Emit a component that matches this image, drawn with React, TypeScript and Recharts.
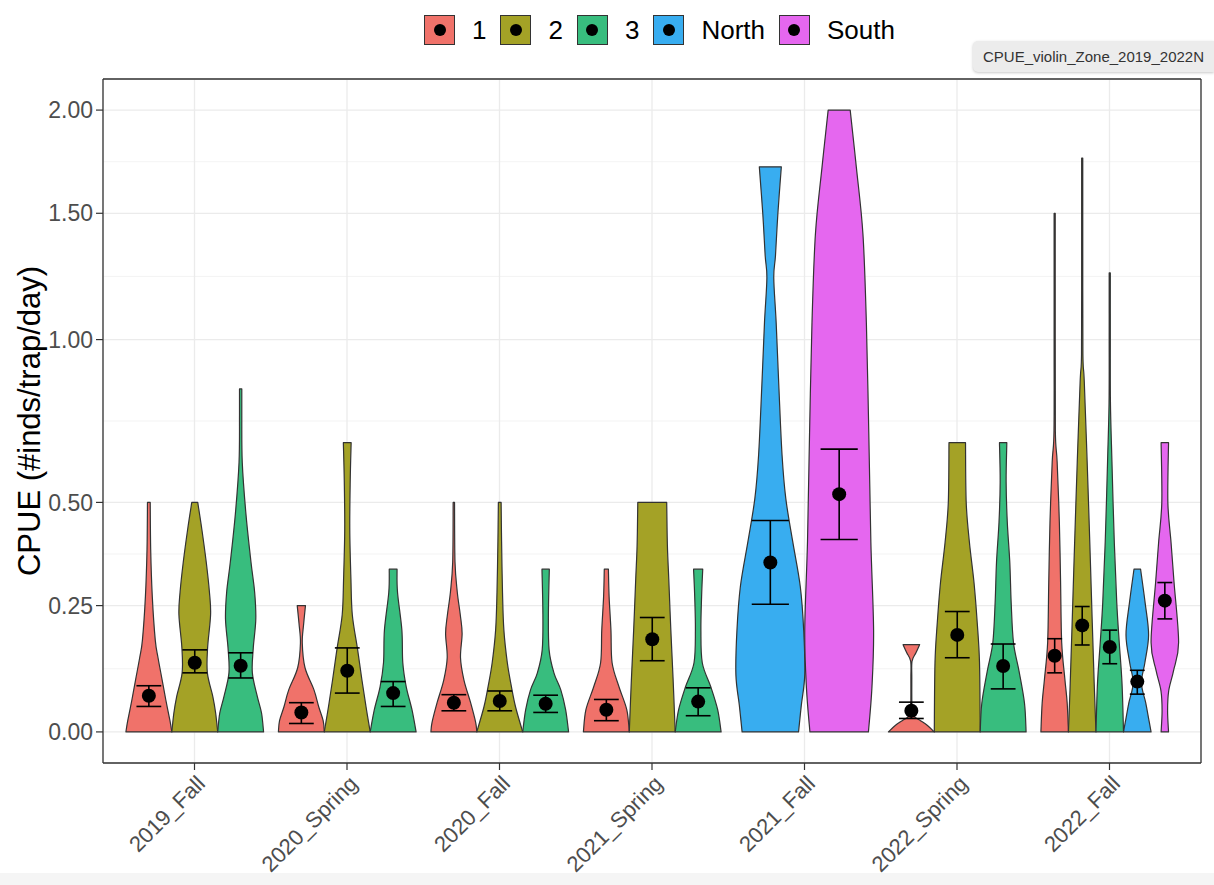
import React from 'react';
import { ComposedChart, Bar, XAxis, YAxis, CartesianGrid } from 'recharts';

// ---- data ---------------------------------------------------------------
const seasons = ['2019_Fall', '2020_Spring', '2020_Fall', '2021_Spring', '2021_Fall', '2022_Spring', '2022_Fall'];
const zones = ['1', '2', '3', 'North', 'South'];
const zoneColors = ['#F0726A', '#A4A226', '#38BD7E', '#38ADF0', '#E567EF'];
const yBreaks = [0, 0.25, 0.5, 1, 1.5, 2];

// one entry per violin (season index, zone)
const violinSeason = [0, 0, 0, 1, 1, 1, 2, 2, 2, 3, 3, 3, 4, 4, 5, 5, 5, 6, 6, 6, 6, 6];
const violinZone = ['1', '2', '3', '1', '2', '3', '1', '2', '3', '1', '2', '3', 'North', 'South', '1', '2', '3', '1', '2', '3', 'North', 'South'];

// mean CPUE and the lower / upper ends of its error bar
const meanCpue = [0.066, 0.13, 0.124, 0.035, 0.114, 0.071, 0.053, 0.056, 0.051, 0.04, 0.178, 0.055, 0.349, 0.522, 0.038, 0.187, 0.1235, 0.144, 0.207, 0.162, 0.093, 0.261];
const seLower = [0.046, 0.11, 0.1, 0.015, 0.071, 0.046, 0.038, 0.038, 0.035, 0.02, 0.134, 0.029, 0.253, 0.405, 0.024, 0.14, 0.079, 0.11, 0.166, 0.128, 0.069, 0.221];
const seUpper = [0.085, 0.156, 0.15, 0.053, 0.16, 0.093, 0.068, 0.075, 0.067, 0.059, 0.224, 0.081, 0.453, 0.648, 0.054, 0.237, 0.168, 0.179, 0.248, 0.197, 0.115, 0.302];

// violin outlines: [CPUE, relative half-width], from the minimum up to the maximum
const densityProfiles: number[][][] = [
  [[0, 1], [0.02, 0.92], [0.058, 0.74], [0.096, 0.58], [0.14, 0.4], [0.176, 0.28], [0.27, 0.15], [0.38, 0.08], [0.5, 0.06]],
  [[0, 1], [0.034, 0.91], [0.064, 0.79], [0.11, 0.55], [0.16, 0.56], [0.23, 0.69], [0.28, 0.64], [0.35, 0.5], [0.43, 0.31], [0.5, 0.13]],
  [[0, 1], [0.034, 0.91], [0.064, 0.73], [0.11, 0.51], [0.16, 0.55], [0.22, 0.66], [0.28, 0.61], [0.35, 0.45], [0.47, 0.23], [0.61, 0.07], [0.75, 0.05], [0.833, 0.05]],
  [[0, 1], [0.02, 0.95], [0.045, 0.76], [0.077, 0.55], [0.12, 0.16], [0.17, 0.04], [0.21, 0.1], [0.25, 0.18]],
  [[0, 1], [0.045, 0.82], [0.096, 0.64], [0.16, 0.44], [0.23, 0.22], [0.31, 0.16], [0.43, 0.11], [0.56, 0.13], [0.667, 0.17]],
  [[0, 1], [0.04, 0.82], [0.083, 0.57], [0.13, 0.42], [0.197, 0.38], [0.28, 0.19], [0.333, 0.17]],
  [[0, 1], [0.017, 0.95], [0.053, 0.73], [0.096, 0.44], [0.14, 0.29], [0.19, 0.36], [0.23, 0.28], [0.28, 0.15], [0.35, 0.05], [0.5, 0.03]],
  [[0, 1], [0.045, 0.69], [0.083, 0.51], [0.13, 0.33], [0.197, 0.18], [0.28, 0.12], [0.4, 0.08], [0.5, 0.06]],
  [[0, 1], [0.04, 0.87], [0.077, 0.66], [0.11, 0.36], [0.156, 0.15], [0.23, 0.12], [0.333, 0.16]],
  [[0, 1], [0.04, 0.89], [0.083, 0.55], [0.13, 0.25], [0.197, 0.2], [0.27, 0.12], [0.333, 0.09]],
  [[0, 1], [0.096, 0.91], [0.197, 0.81], [0.31, 0.72], [0.39, 0.66], [0.5, 0.63]],
  [[0, 1], [0.04, 0.85], [0.083, 0.55], [0.13, 0.18], [0.197, 0.12], [0.27, 0.15], [0.333, 0.2]],
  [[0, 0.82], [0.048, 0.9], [0.106, 1], [0.196, 0.97], [0.293, 0.87], [0.4, 0.65], [0.51, 0.45], [0.632, 0.34], [0.835, 0.25], [1.06, 0.17], [1.23, 0.1], [1.32, 0.15], [1.5, 0.22], [1.714, 0.32]],
  [[0, 0.85], [0.08, 0.95], [0.196, 1], [0.4, 0.92], [0.697, 0.86], [1.06, 0.79], [1.41, 0.69], [1.71, 0.5], [2.0, 0.32]],
  [[0, 1], [0.0117, 0.69], [0.02, 0.4], [0.028, 0.12], [0.04, 0.03], [0.1, 0.02], [0.133, 0.03], [0.15, 0.2], [0.1667, 0.36]],
  [[0, 1], [0.13, 0.97], [0.213, 0.87], [0.302, 0.73], [0.398, 0.53], [0.5, 0.39], [0.667, 0.36]],
  [[0, 1], [0.052, 0.93], [0.114, 0.69], [0.171, 0.45], [0.256, 0.35], [0.349, 0.29], [0.449, 0.18], [0.555, 0.13], [0.667, 0.16]],
  [[0, 1], [0.052, 0.91], [0.098, 0.74], [0.171, 0.51], [0.302, 0.43], [0.449, 0.34], [0.611, 0.18], [0.7, 0.05], [1.0, 0.04], [1.5, 0.04]],
  [[0, 1], [0.09, 0.87], [0.213, 0.73], [0.398, 0.55], [0.611, 0.36], [0.857, 0.15], [0.95, 0.05], [1.3, 0.04], [1.756, 0.04]],
  [[0, 1], [0.09, 0.89], [0.171, 0.69], [0.256, 0.51], [0.398, 0.33], [0.611, 0.16], [0.79, 0.05], [1.0, 0.04], [1.25, 0.04]],
  [[0, 1], [0.023, 0.83], [0.053, 0.61], [0.09, 0.3], [0.13, 0.55], [0.187, 0.82], [0.256, 0.57], [0.333, 0.24]],
  [[0, 0.27], [0.038, 0.2], [0.075, 0.28], [0.114, 0.63], [0.171, 1], [0.302, 0.67], [0.398, 0.45], [0.5, 0.22], [0.667, 0.27]],
];

// ---- scale transform (log1p) -------------------------------------------
const toAxis = (v: number) => Math.log1p(v);
const fromAxis = (t: number) => Math.expm1(t);

type Violin = { zone: string; color: string; mean: number; lo: number; hi: number; profile: number[][] };

const rows = seasons.map((season, si) => {
  const violins: Violin[] = [];
  violinSeason.forEach((s, i) => {
    if (s !== si) return;
    violins.push({
      zone: violinZone[i],
      color: zoneColors[zones.indexOf(violinZone[i])],
      mean: meanCpue[i],
      lo: seLower[i],
      hi: seUpper[i],
      profile: densityProfiles[i],
    });
  });
  const top = Math.max(...violins.map((v) => v.profile[v.profile.length - 1][0]));
  return { season, top: toAxis(top), violins };
});

const tMax = Math.max(...rows.map((r) => r.top));
const yDomain = [-0.05 * tMax, 1.05 * tMax];
const majorTicks = yBreaks.map(toAxis);
const minorTicks = majorTicks.slice(1).map((t, i) => (t + majorTicks[i]) / 2);

const FONT = '"Liberation Sans", Arial, Helvetica, sans-serif';
const INK = '#333333';

// Catmull-Rom through points (w, y), clamped so the outline stays monotone in y
function smoothSide(pts: number[][], cx: number, sign: number) {
  let d = '';
  const clamp = (v: number, a: number, b: number) => Math.min(Math.max(v, Math.min(a, b)), Math.max(a, b));
  for (let i = 0; i < pts.length - 1; i++) {
    const p0 = pts[Math.max(i - 1, 0)];
    const p1 = pts[i];
    const p2 = pts[i + 1];
    const p3 = pts[Math.min(i + 2, pts.length - 1)];
    const c1w = Math.max(0, p1[0] + (p2[0] - p0[0]) / 6);
    const c1y = clamp(p1[1] + (p2[1] - p0[1]) / 6, p1[1], p2[1]);
    const c2w = Math.max(0, p2[0] - (p3[0] - p1[0]) / 6);
    const c2y = clamp(p2[1] - (p3[1] - p1[1]) / 6, p1[1], p2[1]);
    d += ` C ${cx + sign * c1w} ${c1y} ${cx + sign * c2w} ${c2y} ${cx + sign * p2[0]} ${p2[1]}`;
  }
  return d;
}

const ViolinGroup = (props: any) => {
  const { x, y, width, height, payload } = props;
  if (!payload || !payload.violins) return null;
  const base = y + height;
  const py = (v: number) => base - (toAxis(v) / payload.top) * height;
  const n = payload.violins.length;
  const slot = (0.9 * width) / n;
  const mid = x + width / 2;
  return (
    <g>
      {payload.violins.map((vi: Violin, k: number) => {
        const cx = mid + (k - (n - 1) / 2) * slot;
        const half = slot / 2;
        const right = vi.profile.map(([v, w]) => [w * half, py(v)]);
        const left = [...right].reverse();
        const d =
          `M ${cx + right[0][0]} ${right[0][1]}` +
          smoothSide(right, cx, 1) +
          ` L ${cx - left[0][0]} ${left[0][1]}` +
          smoothSide(left, cx, -1) +
          ' Z';
        const cap = 0.54 * slot;
        const yLo = py(vi.lo);
        const yHi = py(vi.hi);
        return (
          <g key={vi.zone}>
            <path d={d} fill={vi.color} stroke={INK} strokeWidth={1.2} strokeLinejoin="round" />
            <line x1={cx} x2={cx} y1={yLo} y2={yHi} stroke="#000" strokeWidth={1.6} />
            <line x1={cx - cap / 2} x2={cx + cap / 2} y1={yLo} y2={yLo} stroke="#000" strokeWidth={1.6} />
            <line x1={cx - cap / 2} x2={cx + cap / 2} y1={yHi} y2={yHi} stroke="#000" strokeWidth={1.6} />
            <circle cx={cx} cy={py(vi.mean)} r={7} fill="#000" />
          </g>
        );
      })}
    </g>
  );
};

const SeasonTick = (props: any) => {
  const { x, y, payload } = props;
  const tx = x + 12;
  const ty = y + 13;
  return (
    <text
      x={tx}
      y={ty}
      transform={`rotate(-45, ${tx}, ${ty})`}
      textAnchor="end"
      fill="#4D4D4D"
      fontSize={22}
      fontFamily={FONT}
    >
      {payload.value}
    </text>
  );
};

const YTitle = (props: any) => {
  const { viewBox } = props;
  const cx = viewBox.x + 29;
  const cy = viewBox.y + viewBox.height / 2;
  return (
    <text
      x={cx}
      y={cy}
      transform={`rotate(-90, ${cx}, ${cy})`}
      textAnchor="middle"
      dominantBaseline="central"
      fill="#000"
      fontSize={31}
      fontFamily={FONT}
    >
      CPUE (#inds/trap/day)
    </text>
  );
};

const ZoneLegend = () => (
  <div
    style={{
      position: 'absolute',
      left: 424,
      top: 15,
      height: 30,
      display: 'flex',
      alignItems: 'center',
      fontFamily: FONT,
      fontSize: 26,
      color: '#000',
    }}
  >
    {zones.map((z, i) => (
      <div key={z} style={{ display: 'flex', alignItems: 'center', marginRight: 14 }}>
        <div
          style={{
            width: 31,
            height: 30,
            boxSizing: 'border-box',
            background: zoneColors[i],
            border: `1.5px solid ${INK}`,
            display: 'flex',
            alignItems: 'center',
            justifyContent: 'center',
            marginRight: 17,
          }}
        >
          <div style={{ width: 12, height: 12, borderRadius: 6, background: '#000' }} />
        </div>
        <span style={{ lineHeight: '30px' }}>{z}</span>
      </div>
    ))}
  </div>
);

export default function App() {
  return (
    <div
      style={{
        position: 'absolute',
        left: 0,
        top: 0,
        width: 1214,
        height: 885,
        overflow: 'hidden',
        background: '#fff',
      }}
    >
      <div style={{ position: 'absolute', left: 0, top: 873, width: 1214, height: 12, background: '#F5F5F5' }} />
      <div style={{ position: 'absolute', left: 0, top: 0 }}>
        <ComposedChart
          width={1214}
          height={885}
          data={rows}
          margin={{ top: 79, right: 13, bottom: 0, left: 0 }}
          barCategoryGap="0%"
          barGap={0}
          style={{ fontFamily: FONT }}
        >
          <CartesianGrid horizontalValues={minorTicks} vertical={false} stroke="#F0F0F0" strokeWidth={0.8} />
          <CartesianGrid stroke="#EBEBEB" strokeWidth={1.3} />
          {/* panel frame: top and right edges of the plotting area */}
          <CartesianGrid
            stroke={INK}
            strokeWidth={1.3}
            horizontalCoordinatesGenerator={({ offset }: any) => [offset.top]}
            verticalCoordinatesGenerator={({ offset }: any) => [offset.left + offset.width]}
          />
          <XAxis
            dataKey="season"
            type="category"
            interval={0}
            padding={{ left: 15.25, right: 15.25 }}
            height={122}
            tick={<SeasonTick />}
            tickSize={7}
            tickLine={{ stroke: INK, strokeWidth: 1.2 }}
            axisLine={{ stroke: INK, strokeWidth: 1.3 }}
          />
          <YAxis
            type="number"
            domain={yDomain}
            allowDataOverflow
            ticks={majorTicks}
            interval={0}
            tickFormatter={(t: number) => fromAxis(t).toFixed(2)}
            width={103}
            tick={{ fill: '#4D4D4D', fontSize: 23, fontFamily: FONT }}
            tickSize={7}
            tickMargin={3}
            tickLine={{ stroke: INK, strokeWidth: 1.2 }}
            axisLine={{ stroke: INK, strokeWidth: 1.3 }}
            label={<YTitle />}
          />
          <Bar dataKey="top" shape={<ViolinGroup />} isAnimationActive={false} fill="none" />
        </ComposedChart>
      </div>
      <ZoneLegend />
      <div
        style={{
          position: 'absolute',
          left: 973,
          top: 41,
          width: 241,
          height: 31,
          boxSizing: 'border-box',
          background: '#ECECEC',
          borderRadius: '5px 0 0 5px',
          boxShadow: '0 1px 3px rgba(0,0,0,0.22)',
          overflow: 'hidden',
          whiteSpace: 'nowrap',
          fontFamily: FONT,
          fontSize: 15,
          color: '#333',
          lineHeight: '31px',
          paddingLeft: 10,
        }}
      >
        CPUE_violin_Zone_2019_2022N
      </div>
    </div>
  );
}
